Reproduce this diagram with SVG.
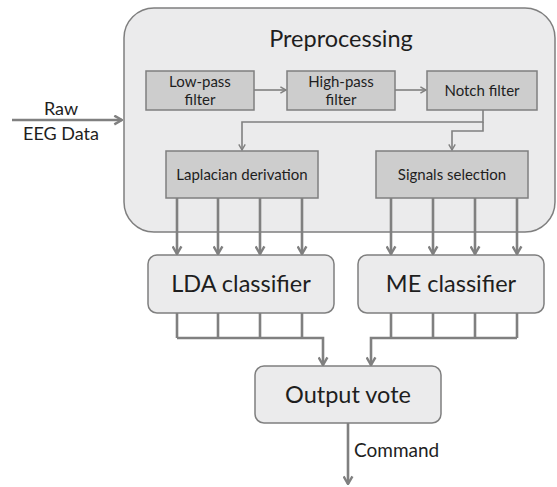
<svg xmlns="http://www.w3.org/2000/svg" width="557" height="487" viewBox="0 0 557 487">
  <style>
    text { font-family: Lato, "Open Sans", "Liberation Sans", sans-serif; fill: #1e1e1e; text-anchor: middle; }
    .panel { fill: #ebebec; stroke: #7f7f7f; stroke-width: 1.5; }
    .filter { fill: #cdcdcd; stroke: #7f7f7f; stroke-width: 1.5; }
    .block { fill: #ebebec; stroke: #7f7f7f; stroke-width: 1.5; }
    .thin { fill: none; stroke: #808080; stroke-width: 1.6; }
    .thick { fill: none; stroke: #808080; stroke-width: 2.6; }
    .small { font-size: 15px; }
    .big { font-size: 23.5px; }
  </style>
  <defs>
    <marker id="headThin" viewBox="0 0 10 10" refX="9" refY="5" markerWidth="8" markerHeight="8" markerUnits="userSpaceOnUse" orient="auto">
      <path d="M2,1 L9,5 L2,9" fill="none" stroke="#808080" stroke-width="1.8"/>
    </marker>
    <marker id="headThick" viewBox="0 0 10 10" refX="9" refY="5" markerWidth="11" markerHeight="11" markerUnits="userSpaceOnUse" orient="auto">
      <path d="M2,1 L9,5 L2,9" fill="none" stroke="#808080" stroke-width="2.2"/>
    </marker>
  </defs>

  <!-- preprocessing stage container -->
  <g id="preprocessing">
    <rect class="panel" x="124" y="8" width="431" height="224" rx="30" ry="30"/>
    <text class="big" x="341" y="47">Preprocessing</text>
  </g>

  <g id="lowpass">
    <rect class="filter" x="146" y="71" width="108" height="39"/>
    <text class="small" x="200" y="87">Low-pass</text>
    <text class="small" x="200" y="105">filter</text>
  </g>

  <g id="highpass">
    <rect class="filter" x="287" y="71" width="108" height="39"/>
    <text class="small" x="341" y="87">High-pass</text>
    <text class="small" x="341" y="105">filter</text>
  </g>

  <g id="notch">
    <rect class="filter" x="427" y="71" width="110" height="39"/>
    <text class="small" x="482" y="96">Notch filter</text>
  </g>

  <g id="laplacian">
    <rect class="filter" x="166" y="151" width="152" height="47"/>
    <text class="small" x="242" y="180">Laplacian derivation</text>
  </g>

  <g id="signals">
    <rect class="filter" x="376" y="151" width="152" height="47"/>
    <text class="small" x="452" y="180">Signals selection</text>
  </g>

  <g id="lda">
    <rect class="block" x="148" y="255" width="186" height="58" rx="9" ry="9"/>
    <text class="big" x="241" y="292">LDA classifier</text>
  </g>

  <g id="me">
    <rect class="block" x="358" y="255" width="186" height="58" rx="9" ry="9"/>
    <text class="big" x="451" y="292">ME classifier</text>
  </g>

  <g id="vote">
    <rect class="block" x="255" y="366" width="186" height="57" rx="9" ry="9"/>
    <text class="big" x="348" y="403">Output vote</text>
  </g>

  <g id="labels">
    <text x="61" y="115" style="font-size:18px">Raw</text>
    <text x="61" y="140" style="font-size:18px">EEG Data</text>
    <text x="354" y="457" style="font-size:19px; text-anchor:start">Command</text>
  </g>

  <g id="connectors">
    <!-- raw input -->
    <path class="thick" d="M12,120 H122" marker-end="url(#headThick)"/>
    <!-- filter chain -->
    <path class="thin" d="M254,90 H286" marker-end="url(#headThin)"/>
    <path class="thin" d="M395,90 H426" marker-end="url(#headThin)"/>
    <path class="thin" d="M483,110 V122 H242 V150" marker-end="url(#headThin)"/>
    <path class="thin" d="M483,122 V131 H452 V150" marker-end="url(#headThin)"/>
    <!-- laplacian channels to LDA -->
    <path class="thick" d="M177,198 V254" marker-end="url(#headThick)"/>
    <path class="thick" d="M218,198 V254" marker-end="url(#headThick)"/>
    <path class="thick" d="M260,198 V254" marker-end="url(#headThick)"/>
    <path class="thick" d="M302,198 V254" marker-end="url(#headThick)"/>
    <!-- selected signals to ME -->
    <path class="thick" d="M391,198 V254" marker-end="url(#headThick)"/>
    <path class="thick" d="M433,198 V254" marker-end="url(#headThick)"/>
    <path class="thick" d="M475,198 V254" marker-end="url(#headThick)"/>
    <path class="thick" d="M517,198 V254" marker-end="url(#headThick)"/>
    <!-- LDA outputs merged into vote -->
    <path class="thick" d="M177,313 V338 M218,313 V338 M260,313 V338 M302,313 V338"/>
    <path class="thick" d="M177,338 H323 V365" marker-end="url(#headThick)"/>
    <!-- ME outputs merged into vote -->
    <path class="thick" d="M391,313 V338 M433,313 V338 M475,313 V338 M517,313 V338"/>
    <path class="thick" d="M517,338 H371 V365" marker-end="url(#headThick)"/>
    <!-- command out -->
    <path class="thick" d="M348,423 V484" marker-end="url(#headThick)"/>
  </g>
</svg>
